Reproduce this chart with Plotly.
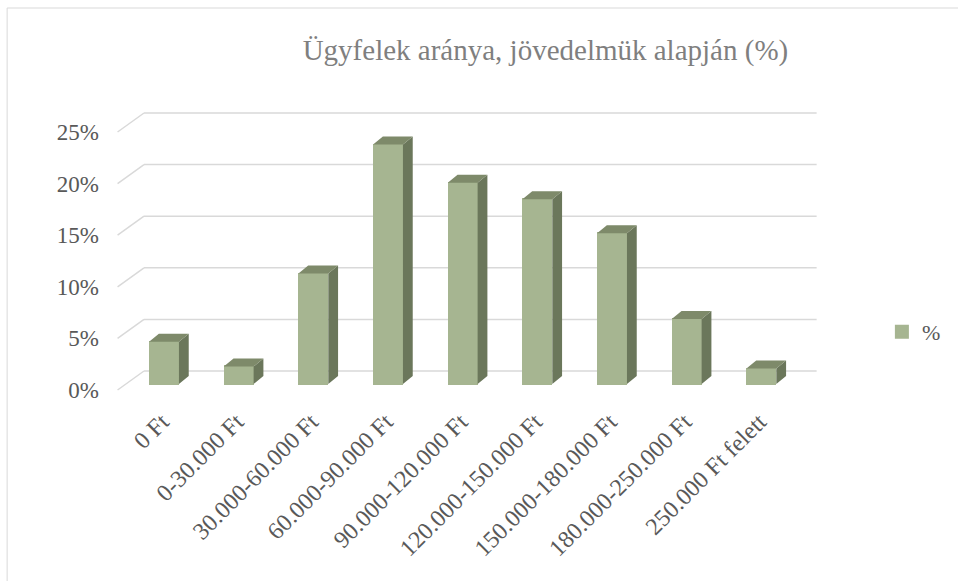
import plotly.graph_objects as go

categories = ["0 Ft", "0-30.000 Ft", "30.000-60.000 Ft", "60.000-90.000 Ft",
              "90.000-120.000 Ft", "120.000-150.000 Ft", "150.000-180.000 Ft",
              "180.000-250.000 Ft", "250.000 Ft felett"]
values = [4.1, 1.7, 10.7, 23.2, 19.5, 17.9, 14.6, 6.3, 1.5]
series_name = "%"
y_ticks = [0, 5, 10, 15, 20, 25]
y_tick_labels = ["0%", "5%", "10%", "15%", "20%", "25%"]

FRONT = "#A6B591"
SIDE = "#6B775B"
TOP = "#7E8A6A"
GRID = "#D9D9D9"
FONT = "Liberation Serif"

# pseudo-3D geometry (in axis units)
bw = 0.4          # bar width
edge = 2          # px outline on the front face (enlarges legend swatch)
dx, dy = 0.131, 0.775   # bar depth offset
wall_dy = 1.26    # back wall offset relative to bar front plane
floor_dy = -0.58  # front floor edge offset
wall_x0, wall_x1 = -0.268, 8.74
front_x0 = -0.622

x = list(range(len(categories)))

fig = go.Figure()

fig.add_trace(go.Bar(x=x, y=values, width=bw - edge / 76.4,
                     marker=dict(color=FRONT, line=dict(width=edge, color=FRONT)),
                     name=series_name, showlegend=True, hoverinfo="skip"))

sx, sy = [], []
tx, ty = [], []
for i, v in zip(x, values):
    r = i + bw / 2
    l = i - bw / 2
    sx += [r, r + dx, r + dx, r, r, None]
    sy += [0, dy, v + dy, v, 0, None]
    tx += [l, l + dx, r + dx, r, l, None]
    ty += [v, v + dy, v + dy, v, v, None]
fig.add_trace(go.Scatter(x=sx, y=sy, mode="lines", fill="toself", fillcolor=SIDE,
                         line=dict(width=0, color=SIDE), showlegend=False, hoverinfo="skip"))
fig.add_trace(go.Scatter(x=tx, y=ty, mode="lines", fill="toself", fillcolor=TOP,
                         line=dict(width=0, color=TOP), showlegend=False, hoverinfo="skip"))

shapes = []
for g in y_ticks:
    shapes.append(dict(type="line", xref="x", yref="y", x0=wall_x0, x1=wall_x1,
                       y0=g + wall_dy, y1=g + wall_dy, line=dict(color=GRID, width=1.5), layer="below"))
    shapes.append(dict(type="line", xref="x", yref="y", x0=front_x0, x1=wall_x0,
                       y0=g + floor_dy, y1=g + wall_dy, line=dict(color=GRID, width=1.5), layer="below"))
shapes.append(dict(type="rect", xref="paper", yref="paper", x0=-0.1267, x1=1.3, y0=-0.75, y1=1.3129,
                   line=dict(color="#D9D9D9", width=1), layer="below"))

fig.update_layout(
    width=958, height=581,
    margin=dict(l=100, r=108, t=100, b=187),
    paper_bgcolor="white", plot_bgcolor="white",
    shapes=shapes,
    title=dict(text="Ügyfelek aránya, jövedelmük alapján (%)", x=0.6077, xref="paper",
               xanchor="center", y=0.914, yanchor="middle",
               font=dict(family=FONT, size=29, color="#7F7F7F")),
    xaxis=dict(range=[-0.8573, 8.9594], tickmode="array", tickvals=x, ticktext=categories,
               tickangle=-45, showgrid=False, zeroline=False, showline=False, ticks="",
               ticklabelshift=-2, ticklabelstandoff=8,
               tickfont=dict(family=FONT, size=24, color="#595959")),
    yaxis=dict(range=[-0.969, 27.52], tickmode="array", tickvals=[g + floor_dy for g in y_ticks],
               ticktext=y_tick_labels, showgrid=False, zeroline=False, showline=False, ticks="",
               tickfont=dict(family=FONT, size=23, color="#595959")),
    legend=dict(x=1.0667, y=0.2109, xanchor="left", yanchor="middle",
                font=dict(family=FONT, size=22, color="#595959"), bgcolor="rgba(0,0,0,0)"),
    bargap=0,
)

fig.write_html("out.html", config={"displayModeBar": False},
               post_script="document.body.style.margin='0';")
